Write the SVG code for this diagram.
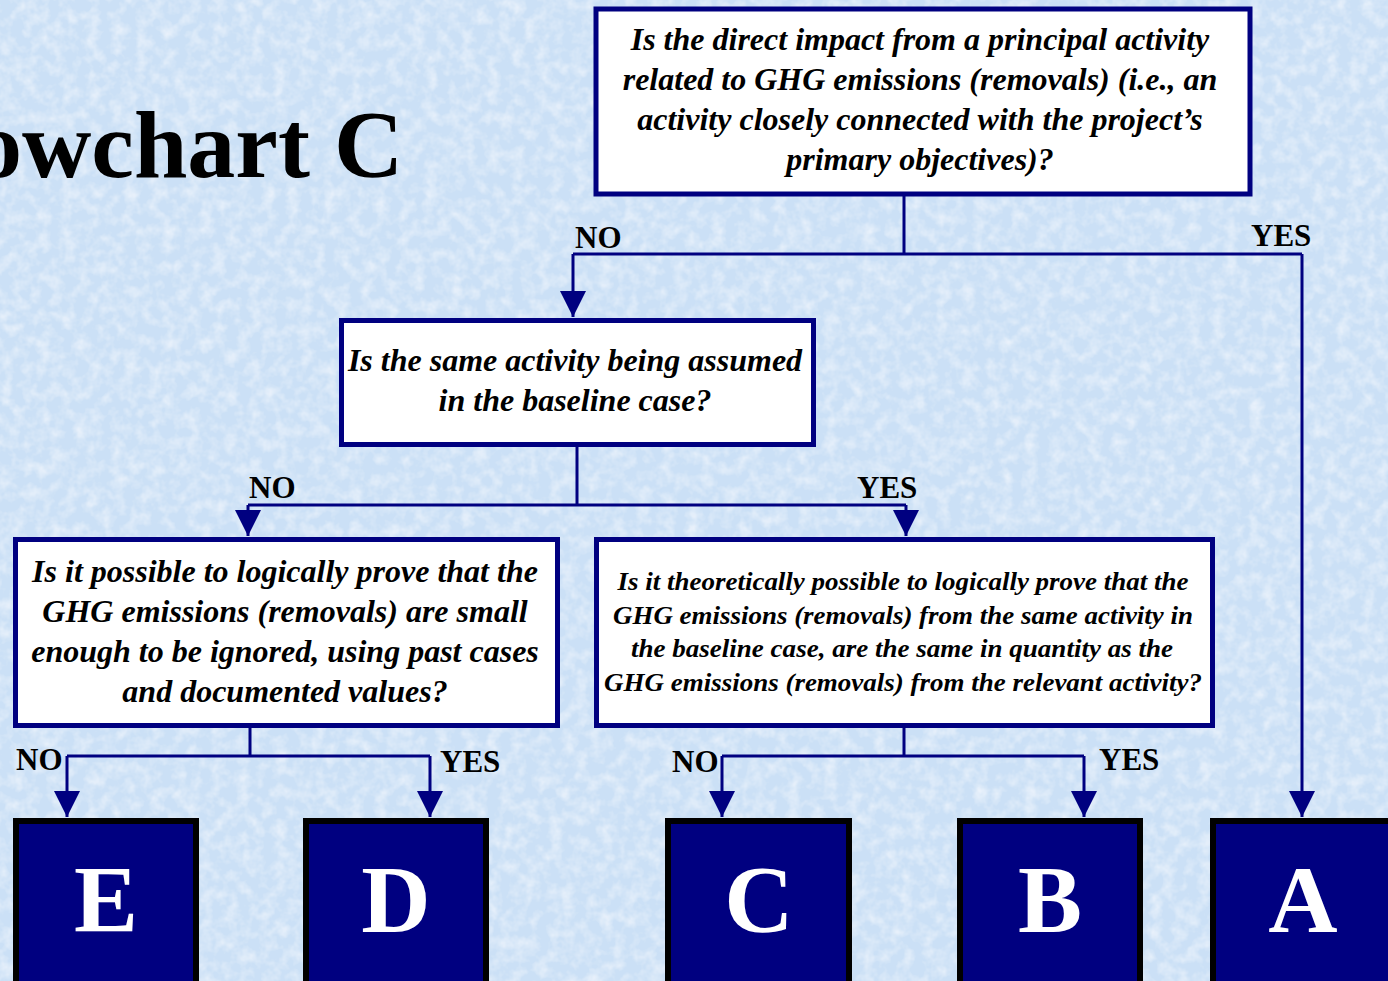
<svg xmlns="http://www.w3.org/2000/svg" width="1388" height="981" viewBox="0 0 1388 981">
<defs>
<style>
.q{fill:#fff;stroke:#000080;stroke-width:5}
.t{font-family:"Liberation Serif","Times New Roman",serif;font-weight:bold;font-style:italic;font-size:32px;fill:#000;text-anchor:middle}
.t4{font-family:"Liberation Serif","Times New Roman",serif;font-weight:bold;font-style:italic;font-size:26px;fill:#000;text-anchor:middle}
.lb{font-family:"Liberation Serif","Times New Roman",serif;font-weight:bold;font-size:31px;fill:#000}
.r{fill:#000080;stroke:#000;stroke-width:6}
.L{font-family:"Liberation Serif","Times New Roman",serif;font-weight:bold;font-size:96px;fill:#fff;text-anchor:middle}
.c{fill:none;stroke:#000080;stroke-width:3}
</style>
<marker id="ah" markerUnits="userSpaceOnUse" markerWidth="26" markerHeight="26" viewBox="0 0 26 26" refX="26" refY="13" orient="auto">
<path d="M0,0 L26,13 L0,26 Z" fill="#000080"/>
</marker>
<filter id="tex" x="0" y="0" width="100%" height="100%">
<feTurbulence type="fractalNoise" baseFrequency="0.08" numOctaves="3" seed="4" result="n"/>
<feColorMatrix in="n" type="matrix" values="0 0 0 0 1  0 0 0 0 1  0 0 0 0 1  0 0 0 1.0 -0.4" result="w"/>
<feComposite in="w" in2="SourceGraphic" operator="over"/>
</filter>
</defs>
<rect width="1388" height="981" fill="#cbe0f6" filter="url(#tex)"/>
<text class="lb" x="-26" y="177" style="font-size:96px">owchart C</text>

<g id="connectors">
<path class="c" d="M904,196 V254 M573,254 H1302"/>
<path class="c" d="M573,254 V317" marker-end="url(#ah)"/>
<path class="c" d="M1302,254 V817" marker-end="url(#ah)"/>
<path class="c" d="M577,447 V505 M248,505 H906"/>
<path class="c" d="M248,505 V536" marker-end="url(#ah)"/>
<path class="c" d="M906,505 V536" marker-end="url(#ah)"/>
<path class="c" d="M250,728 V756 M67,756 H430"/>
<path class="c" d="M67,756 V817" marker-end="url(#ah)"/>
<path class="c" d="M430,756 V817" marker-end="url(#ah)"/>
<path class="c" d="M904,728 V756 M722,756 H1084"/>
<path class="c" d="M722,756 V817" marker-end="url(#ah)"/>
<path class="c" d="M1084,756 V817" marker-end="url(#ah)"/>
<text class="lb" x="575" y="248">NO</text>
<text class="lb" x="1251" y="246">YES</text>
<text class="lb" x="249" y="498">NO</text>
<text class="lb" x="857" y="498">YES</text>
<text class="lb" x="16" y="770">NO</text>
<text class="lb" x="440" y="772">YES</text>
<text class="lb" x="672" y="772">NO</text>
<text class="lb" x="1099" y="770">YES</text>
</g>

<g id="q1">
<rect class="q" x="596" y="9" width="654" height="185"/>
<text class="t" x="920" y="50">Is the direct impact from a principal activity</text>
<text class="t" x="920" y="90">related to GHG emissions (removals) (i.e., an</text>
<text class="t" x="920" y="130">activity closely connected with the project’s</text>
<text class="t" x="920" y="170">primary objectives)?</text>
</g>

<g id="q2">
<rect class="q" x="341.5" y="320.5" width="472" height="124"/>
<text class="t" x="575" y="371">Is the same activity being assumed</text>
<text class="t" x="575" y="411">in the baseline case?</text>
</g>

<g id="q3">
<rect class="q" x="15.5" y="539.5" width="542" height="186"/>
<text class="t" x="285" y="582">Is it possible to logically prove that the</text>
<text class="t" x="285" y="622">GHG emissions (removals) are small</text>
<text class="t" x="285" y="662">enough to be ignored, using past cases</text>
<text class="t" x="285" y="702">and documented values?</text>
</g>

<g id="q4">
<rect class="q" x="596.5" y="539.5" width="616" height="186"/>
<text class="t4" x="903" y="590" textLength="571" lengthAdjust="spacingAndGlyphs">Is it theoretically possible to logically prove that the</text>
<text class="t4" x="903" y="624" textLength="580" lengthAdjust="spacingAndGlyphs">GHG emissions (removals) from the same activity in</text>
<text class="t4" x="902" y="657" textLength="542" lengthAdjust="spacingAndGlyphs">the baseline case, are the same in quantity as the</text>
<text class="t4" x="903" y="691" textLength="598" lengthAdjust="spacingAndGlyphs">GHG emissions (removals) from the relevant activity?</text>
</g>

<g id="E"><rect class="r" x="16" y="821" width="180" height="200"/><text class="L" x="106" y="932">E</text></g>
<g id="D"><rect class="r" x="306" y="821" width="180" height="200"/><text class="L" x="396" y="932">D</text></g>
<g id="C"><rect class="r" x="668" y="821" width="181" height="200"/><text class="L" x="759" y="932">C</text></g>
<g id="B"><rect class="r" x="960" y="821" width="180" height="200"/><text class="L" x="1050" y="932">B</text></g>
<g id="A"><rect class="r" x="1213" y="821" width="180" height="200"/><text class="L" x="1303" y="932">A</text></g>
</svg>
